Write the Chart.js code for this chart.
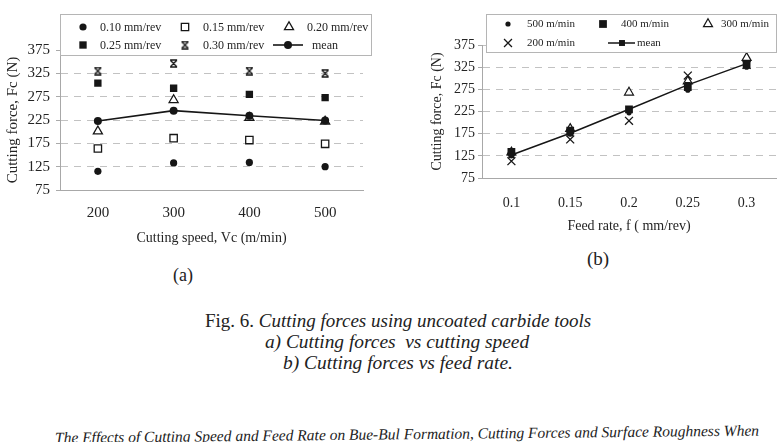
<!DOCTYPE html>
<html><head><meta charset="utf-8">
<script src="https://cdn.jsdelivr.net/npm/chart.js@4.4.1/dist/chart.umd.min.js"></script>
<style>
html,body{margin:0;padding:0;background:#fff;width:784px;height:442px;overflow:hidden;position:relative;font-family:"Liberation Serif","Times New Roman",serif;color:#222}
#ca{position:absolute;left:0;top:0}
#cb{position:absolute;left:392px;top:0}
.t{position:absolute;white-space:nowrap;transform:translate(-50%,-50%);line-height:1}
i{font-style:italic}
</style>
</head><body>
<canvas id="ca" width="392" height="250"></canvas>
<canvas id="cb" width="392" height="240"></canvas>
<div class="t" style="left:183px;top:275px;font-size:18px">(a)</div>
<div class="t" style="left:598px;top:258px;font-size:19px">(b)</div>
<div class="t" style="left:398px;top:320px;font-size:19px">Fig. 6. <i>Cutting forces using uncoated carbide tools</i></div>
<div class="t" style="left:397px;top:342px;font-size:19.4px"><i>a) Cutting forces&nbsp; vs cutting speed</i></div>
<div class="t" style="left:398px;top:363px;font-size:19.4px"><i>b) Cutting forces vs feed rate.</i></div>
<div class="t" style="left:407px;top:434px;font-size:15.5px;transform:translate(-50%,-50%) rotate(-0.6deg)"><i>The Effects of Cutting Speed and Feed Rate on Bue-Bul Formation, Cutting Forces and Surface Roughness When</i></div>
<script>
// ---- Data: chart (a) cutting force vs cutting speed ----
const speedLabels = ['200', '300', '400', '500'];
const feed010 = [115, 133, 134, 125];
const feed015 = [164, 186, 182, 174];
const feed020 = [201, 268, 230, 222];
const feed025 = [304, 293, 280, 273];
const feed030 = [330, 346, 330, 325];
const meanBySpeed = [223, 245, 234, 224];

// ---- Data: chart (b) cutting force vs feed rate ----
const feedLabels = ['0.1', '0.15', '0.2', '0.25', '0.3'];
const speed500 = [125, 174, 222, 273, 325];
const speed400 = [134, 182, 230, 280, 330];
const speed300 = [133, 186, 268, 293, 346];
const speed200 = [113, 162, 204, 306, 330];
const meanByFeed = [127, 176, 230, 285, 333];

const yTicks = [75, 125, 175, 225, 275, 325, 375];

const INK = '#161616';
const TXT = '#242424';
const SERIF = '"Liberation Serif", "Times New Roman", serif';

// custom "hourglass X" marker
function hourglass(size) {
  const c = document.createElement('canvas');
  c.width = size; c.height = size;
  const g = c.getContext('2d');
  g.strokeStyle = INK; g.lineWidth = 1.4;
  g.beginPath();
  g.moveTo(1.5, 1.5); g.lineTo(size - 1.5, size - 1.5);
  g.moveTo(size - 1.5, 1.5); g.lineTo(1.5, size - 1.5);
  g.moveTo(1, 1); g.lineTo(size - 1, 1);
  g.moveTo(1, size - 1); g.lineTo(size - 1, size - 1);
  g.stroke();
  return c;
}
const hgA = hourglass(9);

function drawMarker(ctx, style, x, y, r, fill, stroke, lw) {
  ctx.save();
  ctx.fillStyle = fill; ctx.strokeStyle = stroke; ctx.lineWidth = lw;
  if (style instanceof HTMLCanvasElement) {
    ctx.drawImage(style, x - style.width / 2, y - style.height / 2);
    ctx.restore(); return;
  }
  ctx.beginPath();
  if (style === 'circle') {
    ctx.arc(x, y, r, 0, Math.PI * 2);
    ctx.fill(); if (lw) ctx.stroke();
  } else if (style === 'rect') {
    const s = r * Math.SQRT1_2;
    ctx.rect(x - s, y - s, 2 * s, 2 * s);
    ctx.fill(); if (lw) ctx.stroke();
  } else if (style === 'triangle') {
    for (let k = 0; k < 3; k++) {
      const a = k * 2 * Math.PI / 3;
      const px = x + Math.sin(a) * r, py = y - Math.cos(a) * r;
      if (k === 0) ctx.moveTo(px, py); else ctx.lineTo(px, py);
    }
    ctx.closePath(); ctx.fill(); if (lw) ctx.stroke();
  } else if (style === 'crossRot') {
    const o = r * Math.SQRT1_2;
    ctx.moveTo(x - o, y - o); ctx.lineTo(x + o, y + o);
    ctx.moveTo(x + o, y - o); ctx.lineTo(x - o, y + o);
    ctx.stroke();
  }
  ctx.restore();
}

const boxLegend = {
  id: 'boxLegend',
  afterDraw(chart, args, opts) {
    const ctx = chart.ctx;
    ctx.save();
    const [bx, by, bw, bh] = opts.box;
    ctx.fillStyle = '#fff';
    ctx.fillRect(bx, by, bw, bh);
    ctx.strokeStyle = '#b5b5b5'; ctx.lineWidth = 1;
    ctx.strokeRect(bx, by, bw, bh);
    ctx.font = opts.font;
    ctx.textBaseline = 'middle'; ctx.textAlign = 'left';
    opts.items.forEach(it => {
      const ds = chart.data.datasets[it.ds];
      if (it.line) {
        ctx.strokeStyle = ds.borderColor; ctx.lineWidth = ds.borderWidth;
        ctx.beginPath(); ctx.moveTo(it.line[0], it.y); ctx.lineTo(it.line[1], it.y); ctx.stroke();
      }
      drawMarker(ctx, ds.pointStyle, it.mx, it.y, ds.pointRadius, ds.pointBackgroundColor, ds.pointBorderColor, ds.pointBorderWidth);
      ctx.fillStyle = TXT;
      ctx.fillText(ds.label, it.tx, it.y + 0.5);
    });
    ctx.restore();
  }
};

function pts(label, data, style, r, fill, bw, order) {
  return { label, data, showLine: false, pointStyle: style, pointRadius: r, pointHoverRadius: r,
    pointBackgroundColor: fill, pointBorderColor: INK, pointBorderWidth: bw, borderColor: INK, order };
}

function yScale(width, tickPad, tickSize, titleText, titleSize, titlePad) {
  return {
    min: 75, max: 375,
    afterBuildTicks(s) { s.ticks = yTicks.map(v => ({ value: v })); },
    afterFit(s) { s.width = width; },
    ticks: { color: TXT, font: { family: SERIF, size: tickSize }, padding: tickPad },
    grid: { color: '#c2c2c2', lineWidth: 1, drawTicks: true, tickLength: 4, tickColor: '#aaa' },
    border: { display: true, color: '#a8a8a8', width: 1, dash: [7, 6] },
    title: { display: true, text: titleText, color: TXT, font: { family: SERIF, size: titleSize }, padding: { top: titlePad, bottom: 0 } }
  };
}

function xScale(height, tickPad, tickSize, titleText, titleSize, titlePadBottom) {
  return {
    type: 'category', offset: true,
    afterFit(s) { s.height = height; },
    grid: { display: false },
    border: { display: true, color: '#a8a8a8', width: 1 },
    ticks: { color: TXT, font: { family: SERIF, size: tickSize }, padding: tickPad, maxRotation: 0 },
    title: { display: true, text: titleText, color: TXT, font: { family: SERIF, size: titleSize }, padding: { top: 0, bottom: titlePadBottom } }
  };
}

const common = {
  responsive: false, animation: false, devicePixelRatio: 1,
  plugins: { legend: { display: false }, tooltip: { enabled: false } }
};

new Chart(document.getElementById('ca'), {
  type: 'line',
  data: {
    labels: speedLabels,
    datasets: [
      pts('0.10 mm/rev', feed010, 'circle', 3.6, INK, 0, 2),
      pts('0.15 mm/rev', feed015, 'rect', 5.2, '#fff', 1.3, 2),
      pts('0.20 mm/rev', feed020, 'triangle', 5.2, '#fff', 1.3, 3),
      pts('0.25 mm/rev', feed025, 'rect', 5.2, INK, 0, 2),
      pts('0.30 mm/rev', feed030, hgA, 4.5, INK, 1, 2),
      { label: 'mean', data: meanBySpeed, showLine: true, borderColor: INK, borderWidth: 1.6,
        pointStyle: 'circle', pointRadius: 4, pointHoverRadius: 4, pointBackgroundColor: INK,
        pointBorderColor: INK, pointBorderWidth: 0, tension: 0, order: 1 }
    ]
  },
  options: Object.assign({}, common, {
    layout: { padding: { left: 0, right: 29, top: 50, bottom: 0 } },
    scales: {
      x: xScale(60, 6, 15, 'Cutting speed, Vc (m/min)', 14, 3),
      y: yScale(60, 6, 15, 'Cutting force, Fc (N)', 15, 4)
    },
    plugins: Object.assign({}, common.plugins, {
      boxLegend: {
        box: [60.5, 14.5, 311, 41],
        font: '12px ' + SERIF,
        items: [
          { ds: 0, y: 27, mx: 83, tx: 100 },
          { ds: 1, y: 27, mx: 185, tx: 203 },
          { ds: 2, y: 27, mx: 289, tx: 307 },
          { ds: 3, y: 45, mx: 83, tx: 100 },
          { ds: 4, y: 45, mx: 185, tx: 203 },
          { ds: 5, y: 45, mx: 288, tx: 312, line: [273, 303] }
        ]
      }
    })
  }),
  plugins: [boxLegend]
});

new Chart(document.getElementById('cb'), {
  type: 'line',
  data: {
    labels: feedLabels,
    datasets: [
      pts('500 m/min', speed500, 'circle', 2.6, INK, 0, 2),
      pts('400 m/min', speed400, 'rect', 5.5, INK, 0, 2),
      pts('300 m/min', speed300, 'triangle', 5.2, '#fff', 1.2, 3),
      pts('200 m/min', speed200, 'crossRot', 5.6, INK, 1.3, 2),
      { label: 'mean', data: meanByFeed, showLine: true, borderColor: INK, borderWidth: 1.5,
        pointStyle: 'rect', pointRadius: 4.2, pointHoverRadius: 4.2, pointBackgroundColor: INK,
        pointBorderColor: INK, pointBorderWidth: 0, tension: 0, order: 1 }
    ]
  },
  options: Object.assign({}, common, {
    layout: { padding: { left: 0, right: 8, top: 45, bottom: 0 } },
    scales: {
      x: xScale(62, 9, 14, 'Feed rate, f ( mm/rev)', 14, 5),
      y: yScale(90, 3, 14, 'Cutting force, Fc (N)', 14, 37)
    },
    plugins: Object.assign({}, common.plugins, {
      boxLegend: {
        box: [94.5, 14.5, 290, 38],
        font: '11px ' + SERIF,
        items: [
          { ds: 0, y: 24, mx: 116, tx: 135 },
          { ds: 1, y: 24, mx: 211, tx: 229 },
          { ds: 2, y: 24, mx: 316, tx: 329 },
          { ds: 3, y: 43, mx: 116, tx: 135 },
          { ds: 4, y: 43, mx: 230, tx: 245, line: [216, 243] }
        ]
      }
    })
  }),
  plugins: [boxLegend]
});
</script>
</body></html>
